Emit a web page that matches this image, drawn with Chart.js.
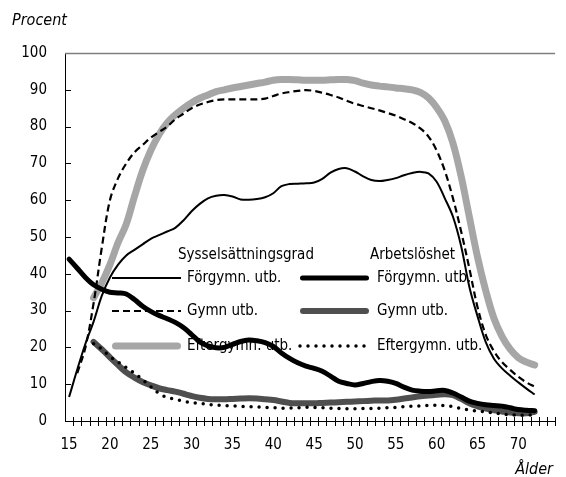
<!DOCTYPE html>
<html>
<head>
<meta charset="utf-8">
<script src="https://cdn.jsdelivr.net/npm/chart.js@4/dist/chart.umd.min.js"></script>
<style>
  html,body{margin:0;padding:0;background:#fff;overflow:hidden;}
  canvas{display:block;}
</style>
</head>
<body>
<canvas id="c" width="566" height="477"></canvas>
<script>
// Categories (age), x axis runs a bit beyond the data
const ages = [15,16,17,18,19,20,21,22,23,24,25,26,27,28,29,30,31,32,33,34,35,36,37,38,39,40,41,42,43,44,45,46,47,48,49,50,51,52,53,54,55,56,57,58,59,60,61,62,63,64,65,66,67,68,69,70,71,72,73,74];
const xTickLabels = [15,20,25,30,35,40,45,50,55,60,65,70];
const yTicks = [0,10,20,30,40,50,60,70,80,90,100];

// Sysselsättningsgrad (employment rate), ages 15..72
const syssForgymn = [6.5,14,21,27,34,39,42.5,45,46.5,48,49.5,50.5,51.5,52.5,54.5,57,59,60.5,61.2,61.4,61,60.2,60.1,60.3,60.8,61.9,63.8,64.4,64.5,64.6,64.8,65.8,67.5,68.5,68.7,67.8,66.5,65.5,65.2,65.5,66,66.8,67.4,67.7,67.3,65,60.5,55.5,47.5,36.5,28.5,21.5,17,14.3,12.3,10.5,8.8,7.2];
const syssGymn = [null,13,20,32,47,60,66,70,73,75,77,78.5,80,82,83.5,85,86,86.7,87.2,87.4,87.4,87.4,87.4,87.4,87.6,88.3,89,89.4,89.7,89.9,89.7,89.2,88.6,87.9,87,86.2,85.6,85,84.4,83.7,83,82,81,79.5,77.3,73.5,68,60.5,51.5,41.5,31,23.5,19,16,13.9,12,10.5,9.3];
const syssEfter = [null,null,null,33.5,37.5,42.5,48.5,53.5,61,68,73.5,77.8,81,83.2,85,86.5,87.7,88.6,89.5,90,90.5,90.9,91.3,91.7,92.1,92.6,92.8,92.8,92.7,92.6,92.6,92.6,92.7,92.8,92.8,92.5,91.8,91.3,91,90.8,90.5,90.3,90,89.3,87.8,85.2,81.5,75.5,66.5,55.5,44.6,35.5,28,23,19.5,17.2,16,15.2];

// Arbetslöshet (unemployment), ages 15..72
const arbForgymn = [44,41.5,39,37,35.8,35,34.8,34.5,33,31.2,29.8,28.7,27.8,26.8,25.4,23.5,21.5,20.4,19.9,20,20.8,21.6,22,21.8,21.3,20.3,18.5,17,15.8,14.9,14.3,13.5,12.2,10.8,10.2,9.8,10.2,10.7,11,10.8,10.2,9.2,8.4,8.1,8,8.2,8.3,7.6,6.5,5.4,4.8,4.4,4.2,4,3.6,3.1,2.9,2.8];
const arbGymn = [null,null,null,21.5,19.5,17.3,15.2,13.2,11.8,10.6,9.7,8.9,8.4,8,7.4,6.8,6.3,6,5.9,5.9,6,6.1,6.2,6.1,5.9,5.7,5.3,4.9,4.8,4.8,4.8,4.9,5,5.1,5.2,5.3,5.4,5.5,5.6,5.6,5.8,6.1,6.4,6.7,6.9,7.1,7.3,7,6,4.8,4,3.4,2.9,2.6,2.3,2.1,2.1,2.5];
const arbEfter = [null,null,null,21,19.5,17.5,16,14.5,13,11.2,9.3,7.5,6.4,5.9,5.4,5,4.8,4.5,4.3,4.2,4.1,4,3.9,3.8,3.7,3.6,3.5,3.5,3.6,3.7,3.7,3.6,3.5,3.4,3.3,3.3,3.4,3.4,3.5,3.6,3.7,3.9,4,4.1,4.2,4.3,4.2,3.9,3.4,3,2.7,2.5,2.2,1.9,1.7,1.6,1.6,1.6];

const FONT = '"Liberation Sans Narrow", "DejaVu Sans Condensed", "Arial Narrow", sans-serif';
const LIGHT = '#a6a6a6', DARK = '#4f4f4f';

const styles = {
  syssForgymn: {borderColor:'#000', borderWidth:2, borderDash:[], cap:'butt'},
  syssGymn:    {borderColor:'#000', borderWidth:2.2, borderDash:[7,4], cap:'butt'},
  syssEfter:   {borderColor:LIGHT, borderWidth:7, borderDash:[], cap:'round'},
  arbForgymn:  {borderColor:'#000', borderWidth:5, borderDash:[], cap:'round'},
  arbGymn:     {borderColor:DARK, borderWidth:6, borderDash:[], cap:'round'},
  arbEfter:    {borderColor:'#000', borderWidth:3.5, borderDash:[0,8], cap:'round'}
};

function ds(label, data, st, order){
  return {label, data, borderColor:st.borderColor, borderWidth:st.borderWidth,
    borderDash:st.borderDash, borderCapStyle:st.cap, borderJoinStyle:'round',
    pointRadius:0, pointHoverRadius:0, fill:false, tension:0.35, spanGaps:false, order};
}

const legendItems = [
  {col:0,row:0,text:'Förgymn. utb.',st:styles.syssForgymn},
  {col:0,row:1,text:'Gymn utb.',st:styles.syssGymn},
  {col:0,row:2,text:'Eftergymn. utb.',st:styles.syssEfter},
  {col:1,row:0,text:'Förgymn. utb.',st:styles.arbForgymn},
  {col:1,row:1,text:'Gymn utb.',st:styles.arbGymn},
  {col:1,row:2,text:'Eftergymn. utb.',st:styles.arbEfter}
];

const decor = {
  id:'decor',
  beforeDatasetsDraw(chart){
    const {ctx, chartArea:a, scales:{x,y}} = chart;
    ctx.save();
    // top line at 100
    const yt = Math.round(y.getPixelForValue(100)) + 0.5;
    ctx.strokeStyle = '#7f7f7f'; ctx.lineWidth = 1.5;
    ctx.beginPath(); ctx.moveTo(a.left, yt); ctx.lineTo(a.right, yt); ctx.stroke();
    // y ticks (inside)
    ctx.strokeStyle = '#000'; ctx.lineWidth = 1;
    ctx.beginPath();
    yTicks.forEach(v => {
      if (v === 0 || v === 100) return;
      const py = Math.round(y.getPixelForValue(v)) + 0.5;
      ctx.moveTo(a.left, py); ctx.lineTo(a.left + 6, py);
    });
    ctx.stroke();
    // x ticks (cross) at category boundaries
    const step = x.getPixelForValue(1) - x.getPixelForValue(0);
    const y0 = Math.round(y.getPixelForValue(0));
    ctx.beginPath();
    for (let i = 1; i <= ages.length; i++) {
      const px = Math.round(x.getPixelForValue(0) - step/2 + i*step) + 0.5;
      ctx.moveTo(px, y0 - 4); ctx.lineTo(px, y0 + 5);
    }
    ctx.stroke();

    // legend (drawn beneath the data lines)
    ctx.font = '15px ' + FONT;
    ctx.fillStyle = '#000';
    ctx.textBaseline = 'middle';
    ctx.textAlign = 'left';
    ctx.fillText('Sysselsättningsgrad', 178, 255);
    ctx.fillText('Arbetslöshet', 370, 255);
    const colX = [112, 300], colLen = 69, textX = [187, 377], rowY = [278, 311, 346];
    legendItems.forEach(it => {
      const yy = rowY[it.row], x0 = colX[it.col];
      ctx.save();
      ctx.strokeStyle = it.st.borderColor;
      ctx.lineWidth = it.st.borderWidth;
      ctx.setLineDash(it.st.borderDash);
      ctx.lineCap = it.st.cap;
      ctx.beginPath();
      const inset = it.st.cap === 'round' && it.st.borderDash.length === 0 ? it.st.borderWidth/2 : 0;
      ctx.moveTo(x0 + inset, yy); ctx.lineTo(x0 + colLen - inset, yy);
      ctx.stroke();
      ctx.restore();
      ctx.fillText(it.text, textX[it.col], yy);
    });
    ctx.restore();
  },
  afterDraw(chart){
    const {ctx} = chart;
    ctx.save();
    ctx.fillStyle = '#000';
    ctx.font = 'italic 16px ' + FONT;
    ctx.textBaseline = 'middle';
    ctx.textAlign = 'left';
    ctx.fillText('Procent', 12, 21);
    ctx.textAlign = 'right';
    ctx.fillText('Ålder', 553, 470);
    ctx.restore();
  }
};

Chart.defaults.font.family = FONT;
Chart.defaults.font.size = 15;
Chart.defaults.color = '#000';

new Chart(document.getElementById('c'), {
  type:'line',
  data:{
    labels: ages.map(String),
    datasets:[
      ds('Arbetslöshet Eftergymn. utb.', arbEfter, styles.arbEfter, 0),
      ds('Arbetslöshet Förgymn. utb.', arbForgymn, styles.arbForgymn, 1),
      ds('Sysselsättningsgrad Gymn utb.', syssGymn, styles.syssGymn, 2),
      ds('Sysselsättningsgrad Förgymn. utb.', syssForgymn, styles.syssForgymn, 3),
      ds('Arbetslöshet Gymn utb.', arbGymn, styles.arbGymn, 4),
      ds('Sysselsättningsgrad Eftergymn. utb.', syssEfter, styles.syssEfter, 5)
    ]
  },
  options:{
    responsive:false,
    devicePixelRatio:1,
    animation:false,
    events:[],
    layout:{padding:{top:53,left:0,right:0,bottom:0}},
    plugins:{legend:{display:false}, tooltip:{enabled:false}, title:{display:false}},
    scales:{
      x:{
        type:'category',
        offset:true,
        grid:{display:false, drawTicks:false, offset:true},
        border:{display:true, color:'#000', width:1},
        ticks:{
          autoSkip:false, maxRotation:0, minRotation:0, padding:15,
          font:{size:15},
          callback:function(v, i){ const a = ages[i]; return xTickLabels.includes(a) ? String(a) : ''; }
        },
        afterFit:(s)=>{ s.height = 56; }
      },
      y:{
        type:'linear', min:0, max:100,
        grid:{display:false, drawTicks:false},
        border:{display:true, color:'#000', width:1},
        ticks:{stepSize:10, padding:18, font:{size:15}},
        afterFit:(s)=>{ s.width = 65; }
      }
    }
  },
  plugins:[decor]
});
</script>
</body>
</html>
